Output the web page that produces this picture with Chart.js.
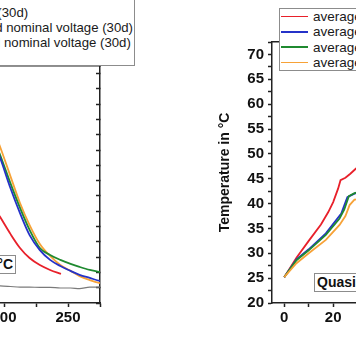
<!DOCTYPE html>
<html><head><meta charset="utf-8">
<script src="https://cdn.jsdelivr.net/npm/chart.js@4"></script>
<style>
html,body{margin:0;padding:0;width:356px;height:364px;overflow:hidden;background:#fff;position:relative;font-family:"Liberation Sans",Arial,sans-serif;}
.wrap{position:absolute;top:0;height:364px;}
.legend{position:absolute;white-space:nowrap;background:#fff;border:1px solid #8c8c8c;font-size:13.5px;color:#1a1a1a;}
#legL{font-size:13.2px;}
.row{display:flex;align-items:center;}
.sw{display:inline-block;width:27px;height:1.5px;margin:0 5px 0 1px;}
.note{position:absolute;white-space:nowrap;background:#fff;border:1px solid #8c8c8c;font-weight:bold;font-size:14px;color:#111;padding:0 2px;height:17px;line-height:17px;}
</style></head>
<body>
<div class="wrap" style="left:-252px;width:354px"><canvas id="cl"></canvas></div>
<div class="wrap" style="left:180px;width:351px"><canvas id="cr"></canvas></div>
<div class="legend" id="legL" style="right:221px;top:-11px;padding-right:1px"></div>
<div class="legend" id="legR" style="left:279px;top:8px"></div>
<div class="note" id="noteL" style="right:340px;top:255px"></div>
<div class="note" id="noteR" style="left:314px;top:273px"></div>
<script>
// ---------- data ----------
const seriesNames = [
  'average at 2C (30d)',
  'average at 1C discharge (30d)',
  'average at 1C charge and nominal voltage (30d)',
  'average at 1C pulses and nominal voltage (30d)'
];
const ambientName = 'ambient temperature';
const seriesColors = ['#e8202a', '#2532c8', '#1f8a30', '#f7a237'];
const ambientColor = '#7a7a7a';
const leftNote = 'Ambient 25 °C';
const rightNote = 'Quasiadiabatic';
const yTitle = 'Temperature in °C';

// left panel (cooling)
const leftTime   = [185, 197, 205, 212.5, 220, 228, 236, 244, 252, 259, 267, 275, 280];
const leftBlue   = [80, 67.4, 57.6, 49.4, 42.2, 37.3, 34.1, 32.1, 30.5, 29.2, 28.2, 27.2, 26.9];
const leftGreen  = [81, 68.4, 59.2, 51.1, 43.9, 38.0, 35.7, 34.1, 32.8, 31.8, 30.8, 30.1, 29.8];
const leftOrange = [84, 71.0, 61.5, 52.7, 45.5, 39.3, 35.4, 32.4, 30.5, 28.8, 27.5, 26.5, 26.1];
const leftAmbient= [25.8, 25.6, 25.4, 25.2, 25.2, 25.1, 25.1, 24.9, 24.9, 24.7, 25.2, 25.2, 25.2];
const redTime    = [185, 197, 205, 212.5, 220, 228, 236, 244.5];
const leftRed    = [56, 48.1, 42.6, 38.0, 34.7, 32.4, 30.8, 29.5];

// right panel (heating)
const rTimeRed    = [0, 5, 10, 15, 18, 20, 22, 23, 25, 27, 29, 32];
const rRed        = [25.2, 29.1, 32.5, 35.8, 38.3, 40.3, 43.0, 44.7, 45.2, 46.0, 46.9, 48.2];
const rTimeBlue   = [0, 5, 10, 17, 23.3, 24.5, 25.8, 28.7, 32];
const rBlue       = [25.2, 28.8, 30.8, 34.0, 38.0, 39.6, 41.3, 42.0, 42.4];
const rTimeGreen  = [0, 5, 10, 17, 22.6, 24.5, 26.4, 28.7, 32];
const rGreen      = [25.2, 28.6, 30.6, 33.7, 37.0, 38.8, 41.5, 42.1, 42.5];
const rTimeOrange = [0, 5, 10, 17, 22.6, 25, 26.7, 28.7, 32];
const rOrange     = [25.2, 28.0, 30.0, 32.7, 35.7, 37.5, 39.7, 40.8, 40.9];

// ---------- helpers ----------
const pts = (xs, ys) => xs.map((x, i) => ({x, y: ys[i]}));
const ds = (label, xs, ys, color, w) => ({label, data: pts(xs, ys), borderColor: color, backgroundColor: color, borderWidth: w || 1.8, pointRadius: 0, fill: false});
const axisColor = '#222';
const fix = (w, h) => s => { if (w !== null) s.width = w; if (h !== null) s.height = h; s.paddingLeft = 0; s.paddingRight = 0; s.paddingTop = 0; s.paddingBottom = 0; };
const tickFont = {size: 15, weight: 'bold'};
Chart.defaults.font.family = '"Liberation Sans", Arial, sans-serif';
Chart.defaults.color = '#111';

// ---------- left chart ----------
new Chart(document.getElementById('cl'), {
  type: 'line',
  data: {datasets: [
    ds(ambientName, leftTime, leftAmbient, ambientColor, 1.2),
    ds(seriesNames[0], redTime, leftRed, seriesColors[0]),
    ds(seriesNames[1], leftTime, leftBlue, seriesColors[1]),
    ds(seriesNames[2], leftTime, leftGreen, seriesColors[2]),
    ds(seriesNames[3], leftTime, leftOrange, seriesColors[3])
  ]},
  options: {
    responsive: true, maintainAspectRatio: false, animation: false,
    layout: {padding: {top: 66, right: 2, left: 0, bottom: 0}},
    plugins: {legend: {display: false}, tooltip: {enabled: false}},
    elements: {line: {cubicInterpolationMode: 'monotone'}},
    scales: {
      x: {type: 'linear', position: 'bottom', min: 0, max: 275, afterFit: fix(null, 61),
        grid: {drawOnChartArea: false, tickLength: 4, tickColor: axisColor, tickWidth: 1.5},
        border: {color: axisColor, width: 1.5},
        ticks: {stepSize: 25, padding: 2, autoSkip: false, maxRotation: 0, font: tickFont, callback: v => v % 50 === 0 ? v : ''}},
      x2: {type: 'linear', position: 'top', min: 0, max: 275, afterFit: fix(null, 0),
        grid: {drawOnChartArea: false, drawTicks: false}, ticks: {display: false},
        border: {color: axisColor, width: 1.5}},
      y: {type: 'linear', display: false, min: 20, max: 97.5},
      y2: {type: 'linear', position: 'right', min: 20, max: 97.5, afterFit: fix(0, null),
        grid: {drawOnChartArea: false, tickLength: -4, tickColor: axisColor, tickWidth: 1.5},
        border: {color: axisColor, width: 1.5},
        ticks: {stepSize: 5, includeBounds: false, display: false}}
    }
  }
});

// ---------- right chart ----------
new Chart(document.getElementById('cr'), {
  type: 'line',
  data: {datasets: [
    ds(seriesNames[3], rTimeOrange, rOrange, seriesColors[3]),
    ds(seriesNames[2], rTimeGreen, rGreen, seriesColors[2]),
    ds(seriesNames[1], rTimeBlue, rBlue, seriesColors[1]),
    ds(seriesNames[0], rTimeRed, rRed, seriesColors[0])
  ]},
  options: {
    responsive: true, maintainAspectRatio: false, animation: false,
    layout: {padding: {top: 42, right: 2, left: 0, bottom: 0}},
    plugins: {legend: {display: false}, tooltip: {enabled: false}},
    elements: {line: {tension: 0}},
    scales: {
      x: {type: 'linear', position: 'bottom', min: -5, max: 100, afterFit: fix(null, 61),
        grid: {drawOnChartArea: false, tickLength: 4, tickColor: axisColor, tickWidth: 1.5},
        border: {color: axisColor, width: 1.5},
        ticks: {stepSize: 10, includeBounds: false, padding: 2, autoSkip: false, maxRotation: 0, font: tickFont, callback: v => v % 20 === 0 ? v : ''}},
      x2: {type: 'linear', position: 'top', min: -5, max: 100, afterFit: fix(null, 0),
        grid: {drawOnChartArea: false, drawTicks: false}, ticks: {display: false},
        border: {color: axisColor, width: 1.5}},
      y: {type: 'linear', position: 'left', min: 20, max: 72.5, afterFit: fix(92, null),
        grid: {drawOnChartArea: false, tickLength: 4, tickColor: axisColor, tickWidth: 1.5},
        border: {color: axisColor, width: 1.5},
        title: {display: true, text: yTitle, color: '#111', font: {size: 14, weight: 'bold'}, padding: {top: 37, bottom: 0}},
        ticks: {stepSize: 2.5, includeBounds: false, padding: 4, autoSkip: false, font: tickFont, callback: v => v % 5 === 0 ? v : ''}}
    }
  }
});

// ---------- legends & notes (HTML text) ----------
function buildLegend(el, names, colors, rowH) {
  names.forEach((n, i) => {
    const r = document.createElement('div');
    r.className = 'row';
    r.style.height = rowH + 'px';
    const s = document.createElement('span');
    s.className = 'sw';
    s.style.background = colors[i];
    const t = document.createElement('span');
    t.textContent = n;
    r.appendChild(s); r.appendChild(t);
    el.appendChild(r);
  });
}
buildLegend(document.getElementById('legL'), seriesNames.concat([ambientName]), seriesColors.concat([ambientColor]), 15);
buildLegend(document.getElementById('legR'), seriesNames, seriesColors, 15.3);
document.getElementById('noteL').textContent = leftNote;
document.getElementById('noteR').textContent = rightNote;
</script>
</body></html>
